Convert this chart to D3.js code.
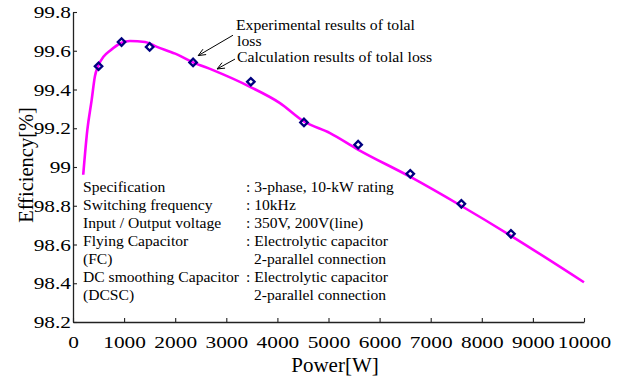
<!DOCTYPE html>
<html>
<head>
<meta charset="utf-8">
<script src="https://cdn.jsdelivr.net/npm/d3@7"></script>
<style>
  body { margin: 0; background: #fff; }
  text { font-family: "Liberation Serif", "Times New Roman", serif; fill: #000; }
</style>
</head>
<body>
<svg width="623" height="378"></svg>
<script>
// calculated efficiency curve (total loss)
const calcPower = [200, 280, 365, 430, 490, 600, 724, 940, 1115, 1410, 1644, 2000, 2350, 2740, 3464, 4050, 4520, 5030, 5577, 6595, 7593, 8571, 10000];
const calcEff   = [98.96, 99.19, 99.345, 99.47, 99.52, 99.57, 99.60, 99.64, 99.65, 99.645, 99.62, 99.585, 99.54, 99.50, 99.414, 99.33, 99.235, 99.175, 99.09, 98.95, 98.80, 98.645, 98.405];

// experimental points
const expPower = [500, 950, 1500, 2350, 3480, 4520, 5580, 6600, 7600, 8570];
const expEff   = [99.52, 99.645, 99.62, 99.54, 99.44, 99.23, 99.115, 98.965, 98.81, 98.655];

const xTicks = [0, 1000, 2000, 3000, 4000, 5000, 6000, 7000, 8000, 9000, 10000];
const yTicks = [98.2, 98.4, 98.6, 98.8, 99, 99.2, 99.4, 99.6, 99.8];
const yTickLabels = ['98.2', '98.4', '98.6', '98.8', '99', '99.2', '99.4', '99.6', '99.8'];

const specNames = ['Specification', 'Switching frequency', 'Input / Output voltage', 'Flying Capacitor', '(FC)', 'DC smoothing Capacitor', '(DCSC)'];
const specValues = [': 3-phase, 10-kW rating', ': 10kHz', ': 350V, 200V(line)', ': Electrolytic capacitor', '2-parallel connection', ': Electrolytic capacitor', '2-parallel connection'];

const svg = d3.select('svg');

const x = d3.scaleLinear().domain([0, 10000]).range([73, 584]);
const y = d3.scaleLinear().domain([98.2, 99.8]).range([322, 12]);

// stretch tick labels a bit like the original figure
function stretch(sel) {
    sel.each(function() {
        const w = this.getComputedTextLength();
        d3.select(this).attr('textLength', w * 1.22).attr('lengthAdjust', 'spacingAndGlyphs');
    });
}

const xAxis = svg.append('g')
    .attr('transform', 'translate(0,322)')
    .call(d3.axisBottom(x).tickValues(xTicks).tickFormat(d3.format('d'))
        .tickSizeInner(-4).tickSizeOuter(0).tickPadding(14));

const yAxis = svg.append('g')
    .attr('transform', 'translate(73,0)')
    .call(d3.axisLeft(y).tickValues(yTicks).tickFormat((d, i) => yTickLabels[i])
        .tickSizeInner(-4).tickSizeOuter(0).tickPadding(2));

[xAxis, yAxis].forEach(g => {
    g.attr('font-family', null);
    g.select('.domain').attr('stroke', '#222').attr('stroke-width', 1.3);
    g.selectAll('.tick line').attr('stroke', '#222').attr('stroke-width', 1.1);
    g.selectAll('.tick text')
        .style('font-family', '"Liberation Serif", serif')
        .style('font-size', '17.5px')
        .attr('fill', '#000')
        .call(stretch);
});

svg.append('text')
    .attr('x', 335).attr('y', 372)
    .attr('text-anchor', 'middle')
    .style('font-size', '21px')
    .text('Power[W]');

svg.append('text')
    .attr('transform', 'translate(33,165) rotate(-90)')
    .attr('text-anchor', 'middle')
    .style('font-size', '20.5px')
    .text('Efficiency[%]');

// calculation curve
const line = d3.line()
    .x((d, i) => x(calcPower[i]))
    .y(d => y(d))
    .curve(d3.curveMonotoneX);

svg.append('path')
    .datum(calcEff)
    .attr('d', line)
    .attr('fill', 'none')
    .attr('stroke', '#ff00ff')
    .attr('stroke-width', 2.6);

// experimental diamonds
svg.selectAll('.pt')
    .data(expEff)
    .join('path')
    .attr('class', 'pt')
    .attr('d', d3.symbol().type(d3.symbolSquare).size(28))
    .attr('transform', (d, i) => `translate(${x(expPower[i])},${y(d)}) rotate(45)`)
    .attr('fill', 'none')
    .attr('stroke', '#000080')
    .attr('stroke-width', 2.3);

// annotations
const notes = [
    {from: [3130, 99.68], to: [2450, 99.575]},
    {from: [3170, 99.557], to: [2820, 99.506]}
];
notes.forEach(n => {
    const x1 = x(n.from[0]), y1 = y(n.from[1]);
    const x2 = x(n.to[0]), y2 = y(n.to[1]);
    const a = Math.atan2(y1 - y2, x1 - x2);
    svg.append('line')
        .attr('x1', x1).attr('y1', y1).attr('x2', x2).attr('y2', y2)
        .attr('stroke', '#000').attr('stroke-width', 1);
    [0.4, -0.4].forEach(da => {
        svg.append('line')
            .attr('x1', x2).attr('y1', y2)
            .attr('x2', x2 + 8 * Math.cos(a + da)).attr('y2', y2 + 8 * Math.sin(a + da))
            .attr('stroke', '#000').attr('stroke-width', 1);
    });
});

const noteText = [
    {t: 'Experimental results of tolal', x: 236, y: 29.5},
    {t: 'loss', x: 237, y: 46},
    {t: 'Calculation results of tolal loss', x: 237, y: 61.5}
];
svg.selectAll('.note')
    .data(noteText)
    .join('text')
    .attr('class', 'note')
    .attr('x', d => d.x).attr('y', d => d.y)
    .style('font-size', '15px')
    .text(d => d.t)
    .each(function() {
        const w = this.getComputedTextLength();
        d3.select(this).attr('textLength', w * 1.05).attr('lengthAdjust', 'spacingAndGlyphs');
    });

// specification table
svg.selectAll('.spec-name')
    .data(specNames)
    .join('text')
    .attr('class', 'spec-name')
    .attr('x', 83).attr('y', (d, i) => 192 + i * 18)
    .style('font-size', '15.6px')
    .text(d => d);

svg.selectAll('.spec-val')
    .data(specValues)
    .join('text')
    .attr('class', 'spec-val')
    .attr('x', d => d.startsWith(':') ? 246 : 254)
    .attr('y', (d, i) => 192 + i * 18)
    .style('font-size', '15.6px')
    .text(d => d);
</script>
</body>
</html>
